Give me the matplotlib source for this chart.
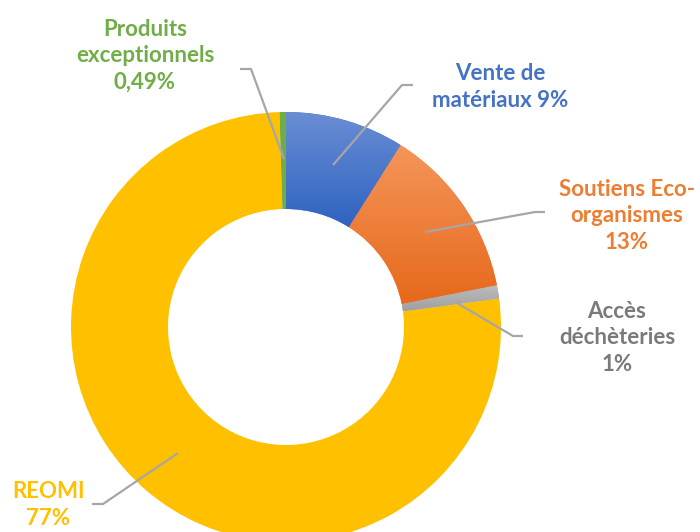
import numpy as np
import matplotlib.pyplot as plt
from matplotlib.colors import to_rgb

# data
labels = ["Vente de\nmatériaux 9%", "Soutiens Eco-\norganismes\n13%", "Accès\ndéchèteries\n1%",
          "REOMI\n77%", "Produits\nexceptionnels\n0,49%"]
values = [9, 13, 1, 77, 0.49]
colors = ["#4472c4", "#ed7d31", "#a5a5a5", "#ffc000", "#70ad47"]
text_colors = ["#4472c4", "#ed7d31", "#7a7a7a", "#ffc000", "#70ad47"]
# (top, bottom) gradient colours for the shaded slices
gradients = {0: ("#6a8ed4", "#2f63c0"), 1: ("#f5955a", "#e6691c"), 2: ("#bdbdbd", "#a0a0a0")}

plt.rcParams['font.family'] = ['Lato', 'DejaVu Sans']

W, H = 700, 532
fig = plt.figure(figsize=(7, 5.32), dpi=100)
ax = fig.add_axes([0, 0, 1, 1])

cx, cy, R = 286, 327, 215
wedges, _ = ax.pie(values, colors=colors, startangle=-90, counterclock=True,
                   center=(cx, cy), radius=R, wedgeprops=dict(width=97, linewidth=0))

ax.set_aspect('equal')
ax.axis('off')

# gradient fill for blue / orange / grey slices
for i, (top, bot) in gradients.items():
    w = wedges[i]
    bb = w.get_path().get_extents()
    c0, c1 = np.array(to_rgb(top)), np.array(to_rgb(bot))
    t = np.linspace(0, 1, 256)[:, None]
    img = (c0 * (1 - t) + c1 * t)[:, None, :]
    im = ax.imshow(img, extent=(bb.x0, bb.x1, bb.y1, bb.y0), origin='upper',
                   aspect='auto', zorder=w.get_zorder() + 0.1)
    im.set_clip_path(w)
ax.set_xlim(0, W)
ax.set_ylim(H, 0)

# leader lines
leaders = [
    [(333, 165), (402, 85), (413, 85)],
    [(425, 232), (535, 212), (545, 212)],
    [(457, 303), (513, 336), (523, 336)],
    [(178, 453), (103, 504), (92, 504)],
    [(284, 159), (251, 69), (240, 69)],
]
for pts in leaders:
    xs, ys = zip(*pts)
    ax.plot(xs, ys, color="#a6a6a6", lw=1.6, zorder=5, solid_capstyle='butt')

# label positions (centre of text block)
label_pos = [(500, 87), (627, 216), (617, 338), (48, 505), (145, 56)]
for lab, (x, y), c in zip(labels, label_pos, text_colors):
    ax.text(x, y, lab, color=c, fontsize=16, fontweight='bold', ha='center', va='center',
            linespacing=1.3, zorder=6)

fig.savefig("out.png", dpi=100)
